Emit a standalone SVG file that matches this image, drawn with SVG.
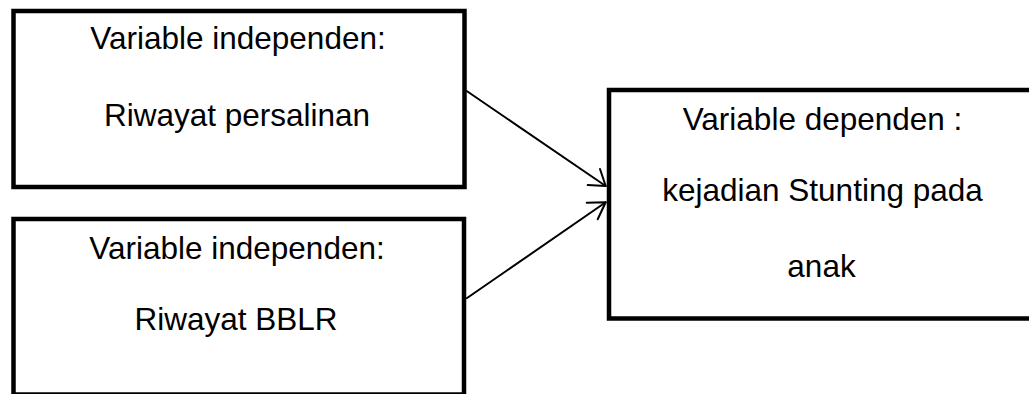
<svg xmlns="http://www.w3.org/2000/svg" width="1029" height="394" viewBox="0 0 1029 394">
<style>
.box{fill:#fff;stroke:#000;stroke-width:4.5}
.t{font-family:"Liberation Sans",Arial,sans-serif;font-size:31.5px;fill:#000;text-anchor:middle}
.c{fill:none;stroke:#000;stroke-width:2;stroke-linecap:round;stroke-linejoin:round}
</style>
<rect width="1029" height="394" fill="#fff"/>
<g id="node-persalinan">
<rect class="box" x="13.5" y="11" width="451" height="176"/>
<text class="t" x="238" y="49">Variable independen:</text>
<text class="t" x="237" y="126">Riwayat persalinan</text>
</g>
<g id="node-bblr">
<rect class="box" x="13.5" y="219" width="450.5" height="175.5"/>
<text class="t" x="237" y="259">Variable independen:</text>
<text class="t" x="236" y="330">Riwayat BBLR</text>
</g>
<g id="node-stunting">
<rect class="box" x="609" y="90" width="430" height="228.5"/>
<text class="t" x="822.5" y="130">Variable dependen :</text>
<text class="t" x="822.5" y="201">kejadian Stunting pada</text>
<text class="t" x="821.5" y="277">anak</text>
</g>
<g id="connectors">
<path class="c" d="M466.7 91 L605.7 186"/>
<path class="c" d="M587.7 185 L605.7 186 L600 169"/>
<path class="c" d="M466.7 298.3 L605.7 202.3"/>
<path class="c" d="M586.7 202.7 L605.7 202.3 L597.7 219.3"/>
</g>
</svg>
